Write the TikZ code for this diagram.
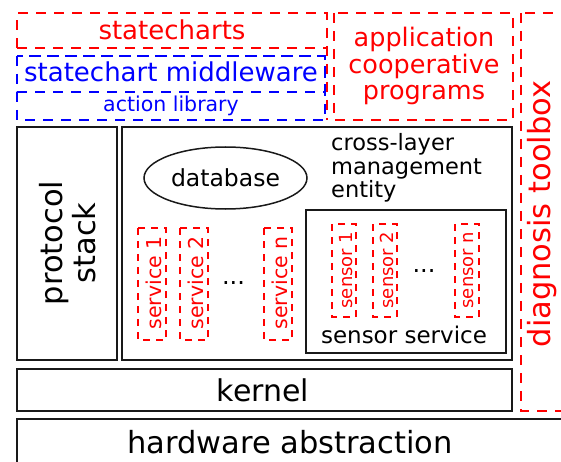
\documentclass[tikz,border=0pt]{standalone}
\usepackage{fontspec}
\setmainfont{DejaVu Sans}
\newcommand{\sz}[2]{\fontsize{#1}{#2}\selectfont}

\begin{document}
\begin{tikzpicture}[x=1pt,y=-1pt,
  blk/.style={draw=black!90, line width=1.5pt},
  reddash/.style={draw=red, line width=1.8pt, dash pattern=on 10pt off 8pt},
  bluedash/.style={draw=blue, line width=1.8pt, dash pattern=on 10pt off 8pt},
  smalldash/.style={draw=red, line width=1.4pt, dash pattern=on 7pt off 6pt},
  lbl/.style={inner sep=0pt}]
\useasboundingbox (0,0) rectangle (561,462);
\clip (0,0) rectangle (561,462);
% Dashed upper layers
\draw[reddash] (17,48) -- (17,13) -- (327,13) -- (327,120);
\draw[reddash] (17,48) -- (327,48);
\draw[bluedash] (17,56) rectangle (325,120);
\draw[bluedash] (17,56) rectangle (325,92);
\draw[reddash] (334,13) rectangle (513,120);
\draw[reddash] (521,13) rectangle (580,411);
% Solid boxes
\draw[blk] (17,127) rectangle (117,360);
\draw[blk] (122,127) rectangle (512,360);
\draw[blk] (306,210) rectangle (506,353);
\draw[blk] (17,369) rectangle (512,411);
\draw[blk] (17,419) rectangle (580,480);
\draw[blk] (225.5,178) ellipse [x radius=81.5pt, y radius=31pt];
% Labels of the layers
\node[lbl, red, anchor=base, font=\sz{26}{28}] (statecharts) at (172,40) {statecharts};
\node[lbl, blue, anchor=base, font=\sz{26}{28}] (middleware) at (171,82) {statechart middleware};
\node[lbl, blue, anchor=base, font=\sz{20.5}{24}] (actionlib) at (171,112) {action library};
\node[lbl, red, align=center, font=\sz{25.5}{26.5}] (application) at (424,66) {application\\cooperative\\programs};
\node[lbl, red, rotate=90, font=\sz{30.5}{33}] (diagnosis) at (542,214) {diagnosis toolbox};
\node[lbl, rotate=90, align=center, font=\sz{30.5}{33}] (protocol) at (68,243) {protocol\\stack};
\node[lbl, font=\sz{23.5}{26}] (database) at (225.5,178) {database};
\node[lbl, anchor=west, align=left, font=\sz{22.5}{23.5}] (crosslayer) at (331,168) {cross-layer\\management\\entity};
% Services and sensors
\foreach \x/\n in {138/1,180/2,264/n} {
  \draw[smalldash] (\x,228) rectangle ++(28,112);
  \node[lbl, red, rotate=90, font=\sz{20.5}{22}] (service\n) at (\x+16,283) {service \n};
}
\node[lbl, anchor=base, font=\sz{24}{26}] (servicedots) at (233.5,284) {...};
\foreach \x/\n in {332/1,373/2,455/n} {
  \draw[smalldash] (\x,224) rectangle ++(24,93);
  \node[lbl, red, rotate=90, font=\sz{18}{20}] (sensor\n) at (\x+14,270) {sensor \n};
}
\node[lbl, anchor=base, font=\sz{24}{26}] (sensordots) at (424,272) {...};
\node[lbl, anchor=base, font=\sz{23}{26}] (sensorservice) at (404,343) {sensor service};
% Bottom layers
\node[lbl, anchor=base, font=\sz{30}{33}] (kernel) at (263,401) {kernel};
\node[lbl, anchor=base, font=\sz{30.5}{33}] (hardware) at (290,453) {hardware abstraction};
\end{tikzpicture}
\end{document}
